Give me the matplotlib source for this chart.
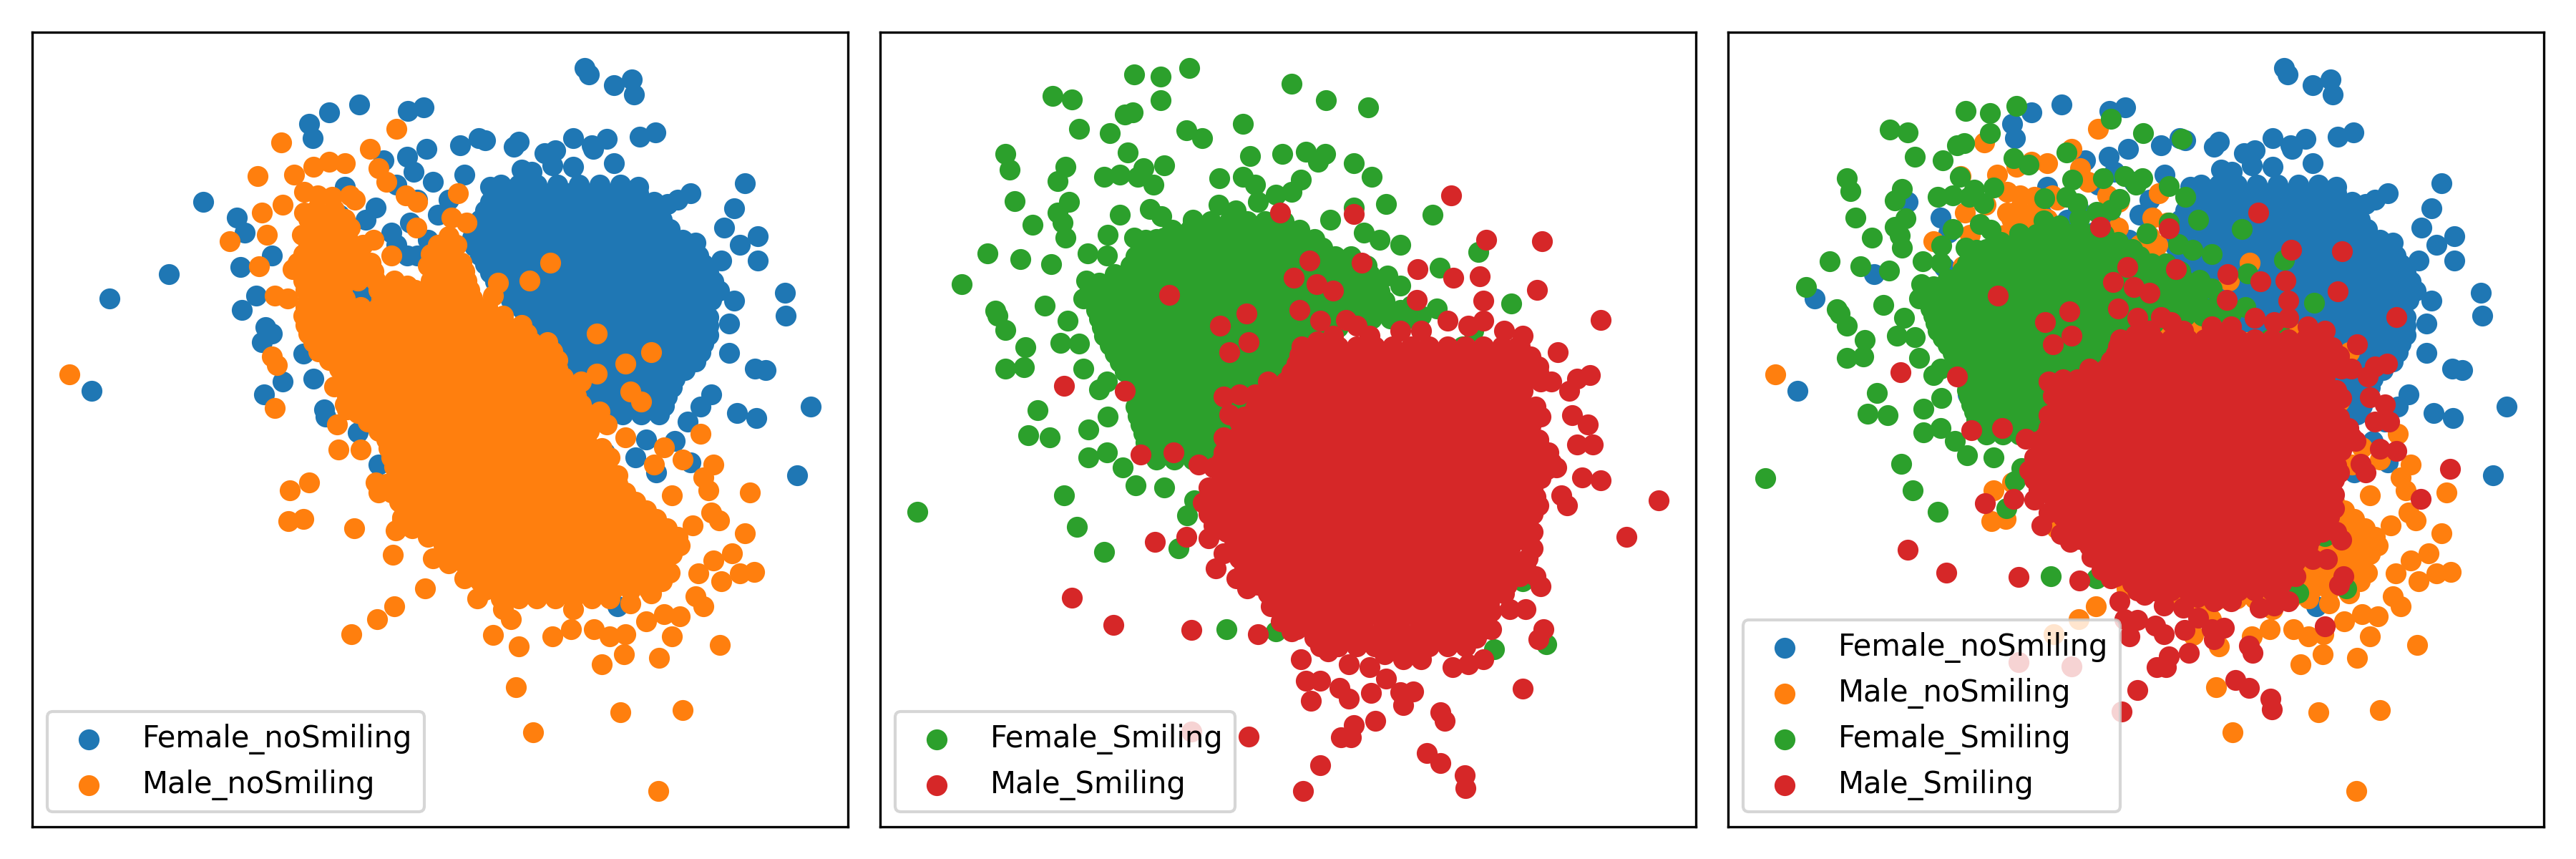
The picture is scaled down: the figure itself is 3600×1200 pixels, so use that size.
import numpy as np
import matplotlib
matplotlib.use("Agg")
import matplotlib.pyplot as plt

# points, in pixel units of each panel (origin top-left)
# panel 1 readings: Female_noSmiling / Male_noSmiling
fns_loose = [
    (1062, 70), (1070, 82), (1118, 103), (1153, 92), (1157, 122), (628, 142), (570, 157),
    (532, 180), (538, 208), (722, 155), (752, 148), (1167, 205), (1198, 197), (822, 222),
    (858, 208), (870, 212), (925, 225), (935, 215), (758, 230), (1040, 208), (1075, 222),
    (1105, 210), (1078, 230), (985, 238), (1005, 232), (1000, 262), (1040, 265), (1118, 258),
    (940, 270), (960, 275), (1370, 297), (1265, 318), (1240, 330), (1222, 338), (1350, 347),
    (1330, 385), (1395, 403), (1360, 420), (1395, 450), (1447, 515), (1449, 560), (1497, 740),
    (1470, 875), (1390, 665), (1410, 668), (1355, 752), (1392, 762), (1305, 715), (1285, 740),
    (1340, 633), (1340, 575), (1325, 450), (1350, 530), (1210, 412), (1250, 410), (1275, 415),
    (328, 335), (392, 365), (407, 395), (400, 463), (262, 478), (147, 525), (113, 708),
    (402, 548), (430, 520), (460, 440), (447, 583), (460, 595), (440, 612), (445, 715),
    (480, 690), (520, 635), (540, 685), (560, 745), (563, 760), (625, 790), (665, 855),
    (720, 245), (732, 275), (600, 305), (675, 252), (770, 295), (830, 280), (880, 305),
    (1165, 305), (1195, 360), (1165, 355), (1120, 345), (1260, 770), (1235, 807), (1180, 805),
    (1160, 840), (1265, 850), (1125, 1135), (1200, 870), (1100, 830), (700, 300), (740, 330),
    (780, 360), (640, 370), (690, 395), (760, 410), (720, 440), (800, 330), (660, 345),
    (725, 375), (590, 360), (700, 420), (740, 440), (620, 505), (650, 520),
]
fns_core = [
    (300, [900, 935, 970, 1010, 1050, 1090, 1130]),
    (318, [890, 925, 960, 995, 1030, 1065, 1100, 1135, 1165]),
    (335, [880, 915, 950, 985, 1020, 1055, 1090, 1125, 1160, 1195]),
    (352, [870, 905, 940, 975, 1010, 1045, 1080, 1115, 1150, 1185, 1205]),
    (370, [860, 895, 930, 965, 1000, 1035, 1070, 1105, 1140, 1175, 1210]),
    (388, [850, 885, 920, 955, 990, 1025, 1060, 1095, 1130, 1165, 1200, 1225]),
    (405, [845, 880, 915, 950, 985, 1020, 1055, 1090, 1125, 1160, 1195, 1230]),
    (422, [850, 880, 915, 950, 985, 1020, 1055, 1090, 1125, 1160, 1195, 1230, 1260]),
    (440, [860, 895, 930, 965, 1000, 1035, 1070, 1105, 1140, 1175, 1210, 1245, 1280]),
    (458, [870, 905, 940, 975, 1010, 1045, 1080, 1115, 1150, 1185, 1220, 1255, 1290]),
    (475, [880, 915, 950, 985, 1020, 1055, 1090, 1125, 1160, 1195, 1230, 1265, 1300]),
    (492, [890, 925, 960, 995, 1030, 1065, 1100, 1135, 1170, 1205, 1240, 1275, 1310]),
    (510, [900, 935, 970, 1005, 1040, 1075, 1110, 1145, 1180, 1215, 1250, 1285, 1320]),
    (528, [920, 955, 990, 1025, 1060, 1095, 1130, 1165, 1200, 1235, 1270, 1305]),
    (545, [940, 975, 1010, 1045, 1080, 1115, 1150, 1185, 1220, 1255, 1290]),
    (562, [960, 995, 1030, 1065, 1100, 1135, 1170, 1205, 1240, 1275, 1300]),
    (580, [980, 1015, 1050, 1085, 1120, 1155, 1190, 1225, 1260, 1300]),
    (598, [995, 1030, 1065, 1100, 1135, 1170, 1205, 1240, 1275, 1300]),
    (615, [1010, 1045, 1080, 1115, 1150, 1185, 1220, 1255, 1290]),
    (632, [1020, 1055, 1090, 1125, 1160, 1195, 1230, 1265, 1285]),
    (650, [1030, 1065, 1100, 1135, 1170, 1205, 1240, 1275]),
    (668, [1045, 1080, 1115, 1150, 1185, 1220, 1255]),
    (685, [1060, 1095, 1130, 1165, 1200, 1235]),
    (702, [1070, 1105, 1140, 1175, 1210, 1230]),
    (720, [1080, 1115, 1150, 1185, 1220]),
    (738, [1090, 1125, 1160, 1195, 1215]),
    (755, [1100, 1135, 1170, 1205]),
]

mns_loose = [
    (70, 676), (478, 217), (700, 190), (648, 230), (432, 283), (502, 280), (540, 265),
    (570, 255), (600, 258), (522, 315), (548, 322), (575, 325), (610, 322), (665, 268),
    (680, 295), (718, 322), (740, 335), (818, 318), (805, 365), (835, 375), (738, 385),
    (620, 330), (440, 355), (480, 340), (522, 355), (378, 412), (450, 400), (518, 400),
    (435, 462), (500, 468), (465, 520), (490, 525), (460, 640), (470, 658), (465, 742),
    (995, 455), (955, 490), (895, 495), (885, 520), (1085, 595), (1190, 632), (1140, 655),
    (1085, 675), (1055, 690), (1150, 710), (1170, 730), (1090, 750), (1105, 775), (1140, 800),
    (1285, 793), (1215, 820), (1250, 845), (1310, 855), (1195, 855), (1290, 880), (1300, 905),
    (1380, 910), (1230, 915), (1125, 875), (1305, 950), (1320, 965), (1370, 990), (1270, 975),
    (1345, 1030), (1310, 1045), (1388, 1067), (1360, 1070), (1280, 1070), (1325, 1085),
    (1275, 1115), (1290, 1135), (1245, 1155), (1215, 1150), (1180, 1165), (1230, 1195),
    (1322, 1212), (1205, 1237), (1138, 1230), (1095, 1250), (1080, 1180), (1110, 1195),
    (1140, 1190), (1035, 1180), (1000, 1195), (935, 1215), (885, 1192), (920, 1160),
    (905, 1140), (930, 1295), (1130, 1345), (1250, 1340), (962, 1385), (1203, 1500),
    (1150, 1130), (1190, 1110), (1040, 1140), (975, 1110), (935, 1115), (855, 1120),
    (830, 1080), (755, 1100), (695, 1135), (662, 1160), (613, 1190), (770, 1040), (800, 1040),
    (693, 1033), (698, 985), (618, 980), (495, 905), (532, 890), (492, 967), (520, 962),
    (660, 890), (665, 910), (588, 825), (630, 825), (585, 775), (605, 745), (580, 700),
    (645, 770), (710, 960), (730, 950), (655, 410), (690, 440), (760, 460), (720, 500),
]
mns_core = [
    (350, [545, 580]),
    (368, [530, 565, 600]),
    (385, [540, 575, 610]),
    (402, [535, 570, 605, 800]),
    (420, [530, 565, 600, 635, 780, 815]),
    (438, [520, 555, 590, 625, 765, 800]),
    (455, [510, 545, 580, 615, 650, 790, 825]),
    (472, [515, 550, 585, 620, 655, 795, 830]),
    (490, [520, 555, 590, 625, 660, 695, 765, 800, 835]),
    (508, [525, 560, 595, 665, 700, 735, 770, 805, 840]),
    (525, [530, 565, 600, 670, 705, 740, 775, 810, 845]),
    (542, [525, 560, 595, 630, 665, 700, 735, 770, 805, 840, 875]),
    (560, [520, 555, 590, 625, 660, 695, 730, 765, 800, 835, 870, 905]),
    (578, [525, 560, 595, 630, 665, 700, 735, 770, 805, 840, 875, 910, 940]),
    (595, [530, 565, 600, 635, 670, 705, 740, 775, 810, 845, 880, 915, 950]),
    (612, [540, 575, 610, 645, 680, 715, 750, 785, 820, 855, 890, 925, 960, 990]),
    (630, [550, 585, 620, 655, 690, 725, 760, 795, 830, 865, 900, 935, 970, 1000]),
    (648, [570, 605, 640, 675, 710, 745, 780, 815, 850, 885, 920, 955, 990, 1010]),
    (665, [590, 625, 660, 695, 730, 765, 800, 835, 870, 905, 940, 975, 1010]),
    (682, [600, 635, 670, 705, 740, 775, 810, 845, 880, 915, 950, 985, 1020]),
    (700, [610, 645, 680, 715, 750, 785, 820, 855, 890, 925, 960, 995, 1030]),
    (718, [605, 640, 675, 710, 745, 780, 815, 850, 885, 920, 955, 990, 1025, 1045]),
    (735, [600, 635, 670, 705, 740, 775, 810, 845, 880, 915, 950, 985, 1020, 1055]),
    (752, [625, 660, 695, 730, 765, 800, 835, 870, 905, 940, 975, 1010, 1045, 1065]),
    (770, [650, 685, 720, 755, 790, 825, 860, 895, 930, 965, 1000, 1035, 1070]),
    (788, [665, 700, 735, 770, 805, 840, 875, 910, 945, 980, 1015, 1050, 1070]),
    (805, [680, 715, 750, 785, 820, 855, 890, 925, 960, 995, 1030, 1065]),
    (822, [685, 720, 755, 790, 825, 860, 895, 930, 965, 1000, 1035, 1070, 1095]),
    (840, [690, 725, 760, 795, 830, 865, 900, 935, 970, 1005, 1040, 1075, 1110]),
    (858, [695, 730, 765, 800, 835, 870, 905, 940, 975, 1010, 1045, 1080, 1100]),
    (875, [700, 735, 770, 805, 840, 875, 910, 945, 980, 1015, 1050, 1085]),
    (892, [680, 710, 745, 780, 815, 850, 885, 920, 955, 990, 1025, 1060, 1095, 1125]),
    (910, [690, 720, 755, 790, 825, 860, 895, 930, 965, 1000, 1035, 1070, 1105, 1140]),
    (928, [705, 740, 775, 810, 845, 880, 915, 950, 985, 1020, 1055, 1090, 1125, 1160]),
    (945, [725, 760, 795, 830, 865, 900, 935, 970, 1005, 1040, 1075, 1110, 1145, 1180]),
    (962, [710, 745, 780, 815, 850, 885, 920, 955, 990, 1025, 1060, 1095, 1130, 1165, 1200]),
    (980, [730, 765, 800, 835, 870, 905, 940, 975, 1010, 1045, 1080, 1115, 1150, 1185, 1220]),
    (998, [760, 795, 830, 865, 900, 935, 970, 1005, 1040, 1075, 1110, 1145, 1180, 1215, 1240]),
    (1015, [790, 825, 860, 895, 930, 965, 1000, 1035, 1070, 1105, 1140, 1175, 1210, 1245]),
    (1032, [810, 845, 880, 915, 950, 985, 1020, 1055, 1090, 1125, 1160, 1195, 1230]),
    (1050, [800, 830, 865, 900, 935, 970, 1005, 1040, 1075, 1110, 1145, 1180, 1215]),
    (1068, [845, 880, 915, 950, 985, 1020, 1055, 1090, 1125, 1160, 1190, 1225]),
    (1085, [860, 895, 930, 965, 1000, 1035, 1070, 1105, 1140, 1175, 1210]),
    (1102, [870, 905, 940, 975, 1010, 1045, 1080, 1115, 1150, 1185]),
    (1120, [900, 935, 970, 1005, 1040, 1075, 1110]),
]

# panel 2 readings: Female_Smiling / Male_Smiling
fs_loose = [
    (593, 70), (488, 82), (538, 87), (538, 133), (330, 125), (367, 132), (790, 100),
    (857, 133), (938, 148), (382, 190), (440, 198), (470, 162), (485, 157), (588, 193),
    (618, 208), (697, 180), (475, 237), (240, 240), (248, 270), (355, 265), (340, 293),
    (430, 285), (460, 280), (505, 268), (545, 262), (525, 300), (495, 285), (652, 288),
    (697, 285), (710, 243), (773, 240), (818, 235), (855, 240), (842, 255), (910, 258),
    (945, 285), (808, 290), (790, 315), (258, 333), (292, 380), (340, 355), (362, 335),
    (355, 405), (350, 375), (460, 360), (518, 348), (540, 362), (650, 340), (683, 352),
    (725, 335), (972, 338), (865, 370), (910, 345), (1062, 360), (205, 437), (268, 448),
    (328, 458), (155, 498), (398, 437), (437, 400), (435, 440), (488, 405), (510, 410),
    (545, 405), (220, 550), (225, 560), (240, 588), (316, 540), (278, 622), (275, 662),
    (240, 665), (345, 613), (382, 615), (360, 570), (395, 490), (390, 525), (390, 665),
    (420, 705), (435, 690), (302, 747), (283, 797), (325, 800), (400, 785), (437, 760),
    (400, 840), (435, 830), (465, 860), (490, 895), (545, 900), (590, 955), (603, 925),
    (70, 948), (353, 915), (377, 978), (430, 1028), (573, 1020), (665, 1180), (760, 1185),
    (1180, 1220), (1280, 1210), (1150, 433), (1213, 535), (1075, 465), (1000, 420),
    (960, 410), (930, 395), (975, 480), (1000, 500), (1070, 545), (1040, 560), (1140, 590),
    (1020, 540), (720, 300), (760, 320), (630, 380), (600, 370), (1120, 620), (1110, 1060),
    (1235, 1085),
]
fs_core = [
    (372, [600, 635, 670, 705, 740, 775]),
    (390, [560, 595, 630, 665, 700, 735, 770, 805]),
    (408, [530, 565, 600, 635, 670, 705, 740, 775, 810, 835]),
    (425, [500, 535, 570, 605, 640, 675, 710, 745, 780, 815, 850]),
    (442, [490, 525, 560, 595, 630, 665, 700, 735, 770, 805, 840, 875, 905]),
    (460, [480, 515, 550, 585, 620, 655, 690, 725, 760, 795, 830, 865, 900, 935]),
    (478, [450, 485, 520, 555, 590, 625, 660, 695, 730, 765, 800, 835, 870, 905, 940]),
    (495, [420, 455, 490, 525, 560, 595, 630, 665, 700, 735, 770, 805, 840, 875, 910, 945]),
    (512, [415, 450, 485, 520, 555, 590, 625, 660, 695, 730, 765, 800, 835, 870, 905, 940, 960]),
    (530, [410, 445, 480, 515, 550, 585, 620, 655, 690, 725, 760, 795, 830, 865, 900, 935, 970]),
    (548, [415, 450, 485, 520, 555, 590, 625, 660, 695, 730, 765, 800, 835, 870, 905, 940, 975, 1000]),
    (565, [420, 455, 490, 525, 560, 595, 630, 665, 700, 735, 770, 805, 840, 875, 910, 945, 980, 1015]),
    (582, [425, 460, 495, 530, 565, 600, 635, 670, 705, 740, 775, 810, 845, 880]),
    (600, [430, 465, 500, 535, 570, 605, 640, 675, 710, 745, 780, 815, 850]),
    (618, [440, 475, 510, 545, 580, 615, 650, 685, 720, 755, 790, 825]),
    (635, [450, 485, 520, 555, 590, 625, 660, 695, 730, 765, 800]),
    (652, [460, 495, 530, 565, 600, 635, 670, 705, 740, 775, 795]),
    (670, [470, 505, 540, 575, 610, 645, 680, 715, 750, 785]),
    (688, [485, 520, 555, 590, 625, 660, 695, 730, 765]),
    (705, [500, 535, 570, 605, 640, 675, 710, 745]),
    (722, [495, 530, 565, 600, 635, 670, 705, 730]),
    (740, [490, 525, 560, 595, 630, 665, 700]),
    (758, [495, 530, 565, 600, 635, 670, 690]),
    (775, [500, 535, 570, 605, 640, 675]),
    (792, [505, 540, 575, 610, 645, 665]),
    (810, [510, 545, 580, 615, 650]),
    (828, [520, 555, 590, 625]),
    (845, [530, 565, 600]),
]

ms_loose = [
    (1097, 322), (768, 355), (910, 358), (1165, 410), (1272, 412), (825, 450), (925, 455),
    (1033, 467), (1101, 484), (1153, 482), (1263, 508), (1160, 530), (1032, 528), (555, 518),
    (703, 555), (653, 580), (708, 612), (670, 632), (795, 485), (838, 498), (870, 510),
    (805, 548), (845, 570), (895, 568), (1385, 568), (1303, 632), (1265, 660), (1290, 690),
    (1325, 708), (1340, 685), (1365, 678), (352, 698), (470, 708), (1330, 757), (1360, 775),
    (1270, 760), (1220, 800), (1265, 805), (1340, 815), (1370, 815), (1300, 860), (1350, 880),
    (1385, 885), (1310, 915), (1320, 935), (1497, 926), (1435, 998), (1250, 945), (1255, 1020),
    (1240, 1060), (1270, 1095), (1240, 1140), (1275, 1180), (1265, 1200), (1160, 1180),
    (1235, 1298), (1100, 1255), (1130, 1250), (1160, 1240), (1040, 1240), (1005, 1240),
    (970, 1230), (940, 1255), (900, 1250), (860, 1225), (808, 1240), (830, 1180), (790, 1185),
    (725, 1190), (598, 1182), (447, 1172), (367, 1118), (528, 1008), (588, 998), (620, 930),
    (612, 855), (500, 835), (563, 830), (645, 1060), (685, 1080), (705, 1100), (750, 1135),
    (770, 1165), (818, 1282), (845, 1283), (828, 1322), (882, 1297), (900, 1318), (943, 1307),
    (972, 1278), (1000, 1305), (1025, 1303), (1005, 1330), (1077, 1345), (1085, 1362),
    (952, 1362), (910, 1370), (885, 1395), (905, 1395), (708, 1393), (598, 1383), (845, 1450),
    (813, 1500), (1050, 1425), (1077, 1445), (1123, 1470), (1125, 1495), (1165, 1130),
    (1190, 1100), (1210, 1140), (640, 975), (630, 1000), (660, 1030), (700, 1035), (745, 1045),
    (640, 860), (660, 800), (690, 770), (670, 755), (660, 720), (690, 715), (720, 715),
    (760, 720), (785, 715), (820, 640), (840, 610), (870, 600), (915, 580), (940, 600),
    (1000, 590), (1040, 590), (1090, 570), (1130, 580), (1160, 570), (1200, 590), (1235, 600),
    (1250, 640), (1225, 620), (1195, 630), (1215, 690), (1260, 740), (1230, 780), (1270, 830),
    (1290, 850),
]
ms_core = [
    (620, [810, 845, 880, 915, 950, 985, 1020, 1055, 1090, 1125, 1160, 1195, 1230]),
    (638, [805, 840, 875, 910, 945, 980, 1015, 1050, 1085, 1120, 1155, 1190, 1225]),
    (655, [800, 835, 870, 905, 940, 975, 1010, 1045, 1080, 1115, 1150, 1185, 1220, 1255]),
    (672, [790, 825, 860, 895, 930, 965, 1000, 1035, 1070, 1105, 1140, 1175, 1210, 1230, 1265]),
    (690, [745, 780, 815, 850, 885, 920, 955, 990, 1025, 1060, 1095, 1130, 1165, 1200, 1235, 1270]),
    (708, [760, 795, 830, 865, 900, 935, 970, 1005, 1040, 1075, 1110, 1145, 1180, 1215, 1235]),
    (725, [740, 775, 810, 845, 880, 915, 950, 985, 1020, 1055, 1090, 1125, 1160, 1195, 1230]),
    (742, [720, 755, 790, 825, 860, 895, 930, 965, 1000, 1035, 1070, 1105, 1140, 1175, 1210, 1245]),
    (760, [700, 735, 770, 805, 840, 875, 910, 945, 980, 1015, 1050, 1085, 1120, 1155, 1190, 1225, 1255]),
    (778, [695, 730, 765, 800, 835, 870, 905, 940, 975, 1010, 1045, 1080, 1115, 1150, 1185, 1220, 1250]),
    (795, [690, 725, 760, 795, 830, 865, 900, 935, 970, 1005, 1040, 1075, 1110, 1145, 1180, 1215, 1250]),
    (812, [675, 710, 745, 780, 815, 850, 885, 920, 955, 990, 1025, 1060, 1095, 1130, 1165, 1200, 1235, 1265]),
    (830, [660, 695, 730, 765, 800, 835, 870, 905, 940, 975, 1010, 1045, 1080, 1115, 1150, 1185, 1220, 1255, 1285]),
    (848, [655, 690, 725, 760, 795, 830, 865, 900, 935, 970, 1005, 1040, 1075, 1110, 1145, 1180, 1215, 1250, 1280]),
    (865, [650, 685, 720, 755, 790, 825, 860, 895, 930, 965, 1000, 1035, 1070, 1105, 1140, 1175, 1210, 1245, 1280]),
    (882, [655, 690, 725, 760, 795, 830, 865, 900, 935, 970, 1005, 1040, 1075, 1110, 1145, 1180, 1215, 1250, 1270]),
    (900, [630, 660, 695, 730, 765, 800, 835, 870, 905, 940, 975, 1010, 1045, 1080, 1115, 1150, 1185, 1220, 1255]),
    (918, [635, 665, 700, 735, 770, 805, 840, 875, 910, 945, 980, 1015, 1050, 1085, 1120, 1155, 1190, 1225, 1260]),
    (935, [640, 670, 705, 740, 775, 810, 845, 880, 915, 950, 985, 1020, 1055, 1090, 1125, 1160, 1195, 1230, 1265]),
    (952, [630, 660, 695, 730, 765, 800, 835, 870, 905, 940, 975, 1010, 1045, 1080, 1115, 1150, 1185, 1220, 1255]),
    (970, [650, 685, 720, 755, 790, 825, 860, 895, 930, 965, 1000, 1035, 1070, 1105, 1140, 1175, 1210, 1245]),
    (988, [665, 700, 735, 770, 805, 840, 875, 910, 945, 980, 1015, 1050, 1085, 1120, 1155, 1190, 1225, 1255]),
    (1005, [680, 715, 750, 785, 820, 855, 890, 925, 960, 995, 1030, 1065, 1100, 1135, 1170, 1205, 1240]),
    (1022, [700, 735, 770, 805, 840, 875, 910, 945, 980, 1015, 1050, 1085, 1120, 1155, 1190, 1210]),
    (1040, [690, 720, 755, 790, 825, 860, 895, 930, 965, 1000, 1035, 1070, 1105, 1140, 1175, 1210, 1245]),
    (1058, [700, 730, 765, 800, 835, 870, 905, 940, 975, 1010, 1045, 1080, 1115, 1150, 1185, 1205, 1240]),
    (1075, [705, 740, 775, 810, 845, 880, 915, 950, 985, 1020, 1055, 1090, 1125, 1160, 1195, 1230, 1260]),
    (1092, [725, 760, 795, 830, 865, 900, 935, 970, 1005, 1040, 1075, 1110, 1145, 1170, 1205]),
    (1110, [745, 780, 815, 850, 885, 920, 955, 990, 1025, 1060, 1095, 1130, 1165, 1200]),
    (1128, [765, 785, 820, 855, 890, 925, 960, 995, 1030, 1065, 1100, 1135, 1170]),
    (1145, [790, 825, 860, 895, 930, 965, 1000, 1035, 1070, 1105, 1140, 1175]),
    (1162, [790, 825, 860, 895, 930, 965, 1000, 1035, 1070, 1105, 1125, 1160]),
    (1180, [800, 830, 860, 895, 930, 965, 1000, 1035, 1070, 1105, 1140, 1175]),
    (1198, [835, 870, 905, 940, 975, 1010, 1045, 1080, 1110, 1145]),
    (1215, [845, 880, 915, 950, 985, 1020, 1055, 1090, 1125]),
]

labels = ["Female_noSmiling", "Male_noSmiling", "Female_Smiling", "Male_Smiling"]
colors = ["tab:blue", "tab:orange", "tab:green", "tab:red"]

# panel 2 pixels -> panel 1 pixels (found from shared points in panel 3)
P2_X0, P2_SX = -15.6, 0.937
P2_Y0, P2_SY = 86.3, 0.838
PANEL_H = 1568


def gather(loose, core):
    pts = list(loose)
    for y, xs in core:
        pts += [(x, y) for x in xs]
    return np.array(pts, dtype=float)


def to_data(pts, from_p2=False):
    x, y = pts[:, 0], pts[:, 1]
    if from_p2:
        x = P2_X0 + P2_SX * x
        y = P2_Y0 + P2_SY * y
    return x, PANEL_H - y


groups = [
    to_data(gather(fns_loose, fns_core)),
    to_data(gather(mns_loose, mns_core)),
    to_data(gather(fs_loose, fs_core), True),
    to_data(gather(ms_loose, ms_core), True),
]

fig, axes = plt.subplots(1, 3, figsize=(12, 4), dpi=300)
panels = [[0, 1], [2, 3], [0, 1, 2, 3]]
for ax, idx in zip(axes, panels):
    for i in idx:
        gx, gy = groups[i]
        ax.scatter(gx, gy, color=colors[i], label=labels[i])
    ax.set_xticks([])
    ax.set_yticks([])
    ax.legend(loc="lower left")

plt.tight_layout()
plt.savefig("out.png")
